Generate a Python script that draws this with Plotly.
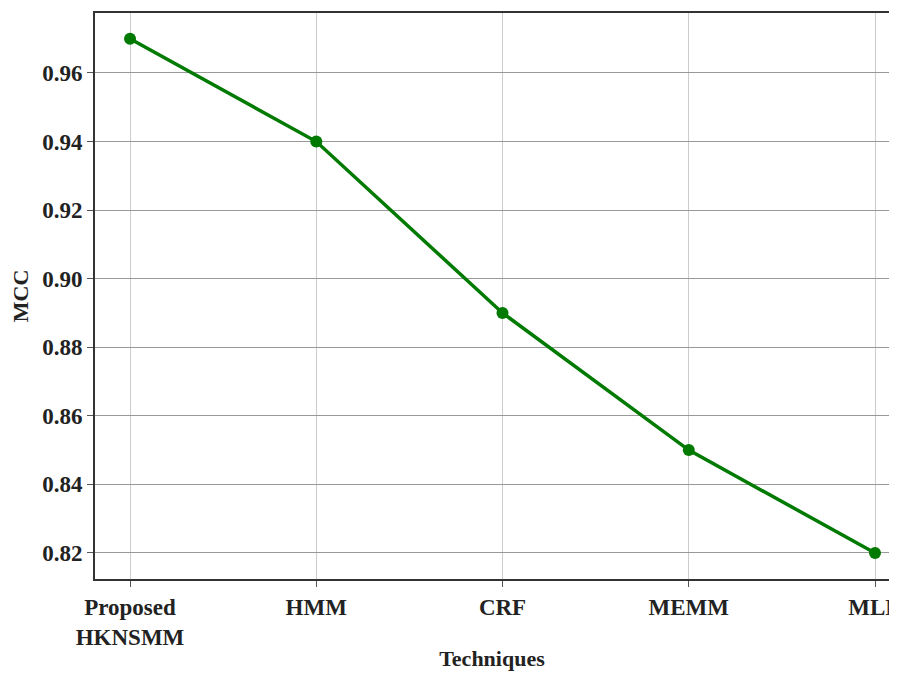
import plotly.graph_objects as go

techniques = ["Proposed<br>HKNSMM", "HMM", "CRF", "MEMM", "MLN"]
mcc = [0.97, 0.94, 0.89, 0.85, 0.82]
y_ticks = [0.82, 0.84, 0.86, 0.88, 0.90, 0.92, 0.94, 0.96]
y_tick_labels = ["0.82", "0.84", "0.86", "0.88", "0.90", "0.92", "0.94", "0.96"]

font_family = "Liberation Serif"

fig = go.Figure()
fig.add_trace(go.Scatter(
    x=list(range(len(techniques))), y=mcc, mode="lines+markers",
    line=dict(color="#007a00", width=3.5),
    marker=dict(color="#007a00", size=12),
    showlegend=False,
))

# page body has an 8px default margin; size the figure to fit the window without scrollbars
fig.update_layout(
    width=881, height=663,
    margin=dict(l=87, r=0, t=5, b=92),
    paper_bgcolor="white", plot_bgcolor="white",
    font=dict(family=font_family, color="#222", size=23),
)
fig.update_xaxes(
    tickmode="array", tickvals=list(range(len(techniques))), ticktext=[f"<b>{t}</b>" for t in techniques],
    range=[-0.188, 4.075],
    showgrid=True, gridcolor="#cccccc", gridwidth=1,
    showline=True, linecolor="#333333", linewidth=2, mirror=True,
    ticks="outside", ticklen=6, tickcolor="#555",
    ticklabeloverflow="allow", automargin=False,
    title=dict(text="<b>Techniques</b>", font=dict(size=22, family=font_family), standoff=11),
    zeroline=False,
)
fig.update_yaxes(
    tickmode="array", tickvals=y_ticks, ticktext=[f"<b>{t}</b>" for t in y_tick_labels],
    range=[0.8124, 0.9775],
    showgrid=True, gridcolor="#999999", gridwidth=1,
    showline=True, linecolor="#333333", linewidth=2, mirror=False,
    ticks="outside", ticklen=6, tickcolor="#555",
    automargin=False,
    title=dict(text="<b>MCC</b>", font=dict(size=22, family=font_family), standoff=8),
    zeroline=False,
)

fig.write_html("out.html")
